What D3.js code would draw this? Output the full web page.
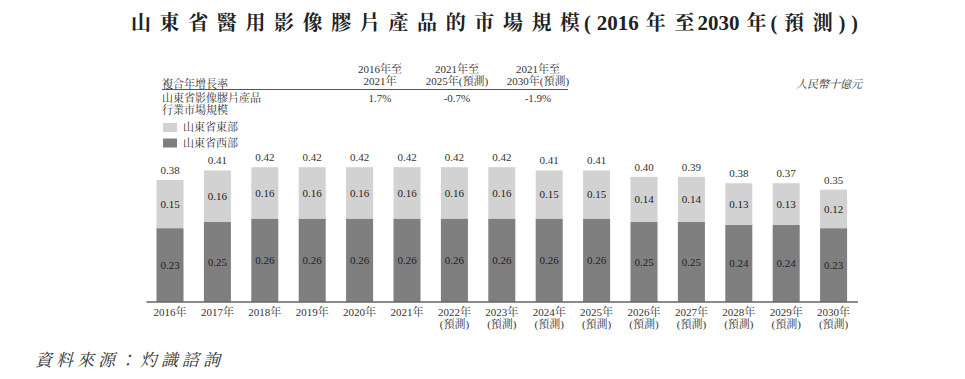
<!DOCTYPE html>
<html><head><meta charset="utf-8">
<script src="https://cdn.jsdelivr.net/npm/d3@7"></script>
<style>
body{margin:0;background:#fff;}
svg{display:block;}
text{font-family:"Liberation Serif","Noto Serif CJK TC","Noto Sans CJK TC",serif;fill:#333;}
</style></head>
<body>
<svg id="c" width="965" height="379"></svg>
<script>
const years = ["2016","2017","2018","2019","2020","2021","2022","2023","2024","2025","2026","2027","2028","2029","2030"];
const forecast = [false,false,false,false,false,false,true,true,true,true,true,true,true,true,true];
const west = [0.23,0.25,0.26,0.26,0.26,0.26,0.26,0.26,0.26,0.26,0.25,0.25,0.24,0.24,0.23];
const east = [0.15,0.16,0.16,0.16,0.16,0.16,0.16,0.16,0.15,0.15,0.14,0.14,0.13,0.13,0.12];
const totals = ["0.38","0.41","0.42","0.42","0.42","0.42","0.42","0.42","0.41","0.41","0.40","0.39","0.38","0.37","0.35"];
const cagrHeaders = [["2016年至","2021年"],["2021年至","2025年(預測)"],["2021年至","2030年(預測)"]];
const cagrValues = ["1.7%","-0.7%","-1.9%"];
const seriesNames = ["山東省東部","山東省西部"];
const colors = {east:"#d2d2d3", west:"#7f7f80"};
const titleText = "山東省醫用影像膠片產品的市場規模(2016年至2030年(預測))";

const svg = d3.select("#c");

// Title: per-pair spacing, CJK-CJK gap fitted so title spans 131..858
const title = svg.append("text").attr("x",131).attr("y",30)
  .style("font-size","20px").style("font-weight","bold").style("fill","#222");
const chars = Array.from(titleText);
const isCJK = c => /[\u4e00-\u9fff]/.test(c);
const isDigit = c => /[0-9]/.test(c);
const tsp = chars.map(c => {
  const s = title.append("tspan").text(c);
  if(isDigit(c)) s.style("font-size","21px");
  return s;
});
const natural = title.node().getComputedTextLength();
const fixed = chars.map((c,i)=>{
  if(i===0) return 0;
  const p = chars[i-1];
  if(c==="(" ) return 4;
  if(isDigit(c) && p==="(") return 6;
  if(isCJK(c) && isDigit(p)) return 7;
  if(isDigit(c) && isCJK(p)) return 3;
  if(isCJK(c) && p==="(") return 7;
  if(c===")") return 6;
  return 0;
});
const nCJK = chars.filter((c,i)=>i>0 && isCJK(c) && isCJK(chars[i-1])).length;
const gap = (727 - natural - d3.sum(fixed)) / nCJK;
chars.forEach((c,i)=>{
  let dx = fixed[i];
  if(i>0 && isCJK(c) && isCJK(chars[i-1])) dx = gap;
  if(dx) tsp[i].attr("dx", dx);
});

// CAGR table
svg.append("text").attr("x",162).attr("y",88).style("font-size","11px").text("複合年增長率");
const colX = [380,457,538];
cagrHeaders.forEach((h,i)=>{
  svg.append("text").attr("x",colX[i]).attr("y",73).attr("text-anchor","middle").style("font-size","11px").text(h[0]);
  svg.append("text").attr("x",colX[i]).attr("y",85).attr("text-anchor","middle").style("font-size","11px").text(h[1]);
  svg.append("text").attr("x",colX[i]).attr("y",102).attr("text-anchor","middle").style("font-size","11px").text(cagrValues[i]);
});
svg.append("line").attr("x1",162).attr("x2",568).attr("y1",89.5).attr("y2",89.5).attr("stroke","#555").attr("stroke-width",1);
svg.append("text").attr("x",162).attr("y",102).style("font-size","11px").text("山東省影像膠片產品");
svg.append("text").attr("x",162).attr("y",114).style("font-size","11px").text("行業市場規模");

// Legend
[colors.east, colors.west].forEach((c,i)=>{
  svg.append("rect").attr("x",163).attr("y",123+i*15.5).attr("width",14).attr("height",9).attr("fill",c);
  svg.append("text").attr("x",183).attr("y",131+i*15.5).style("font-size","11px").text(seriesNames[i]);
});

// Unit
svg.append("text").attr("x",862).attr("y",88).attr("text-anchor","end")
  .style("font-size","11px").style("font-style","italic").text("人民幣十億元");

// Scales
const x = d3.scaleBand().domain(years).range([146.3,857.3]).paddingInner(0.43).paddingOuter(0.215);
const y = d3.scaleLinear().domain([0,0.5]).range([302,302-160.5]);

const g = svg.append("g");
years.forEach((yr,i)=>{
  const x0 = x(yr), w = x.bandwidth(), cx = x0 + w/2;
  const w0 = west[i], e0 = east[i];
  g.append("rect").attr("x",x0).attr("width",w).attr("y",y(w0)).attr("height",y(0)-y(w0)).attr("fill",colors.west);
  g.append("rect").attr("x",x0).attr("width",w).attr("y",y(w0+e0)).attr("height",y(w0)-y(w0+e0)).attr("fill",colors.east);
  g.append("text").attr("x",cx).attr("y",(y(0)+y(w0))/2+4).attr("text-anchor","middle").style("font-size","11px").style("fill","#222").text(w0.toFixed(2));
  g.append("text").attr("x",cx).attr("y",(y(w0)+y(w0+e0))/2+4).attr("text-anchor","middle").style("font-size","11px").style("fill","#222").text(e0.toFixed(2));
  g.append("text").attr("x",cx).attr("y",y(w0+e0)-6).attr("text-anchor","middle").style("font-size","11px").text(totals[i]);
});

// X axis
const axis = d3.axisBottom(x).tickSize(0).tickPadding(0).tickFormat(d=>d+"年");
const ax = svg.append("g").attr("transform","translate(0,302)").call(axis);
ax.select(".domain").remove();
svg.append("line").attr("x1",146.5).attr("x2",858).attr("y1",302).attr("y2",302).attr("stroke","#666").attr("stroke-width",1.5);
ax.selectAll(".tick text").each(function(d,i){
  const t = d3.select(this);
  t.text(null).attr("y",0).attr("dy",null).style("font-size","11px").style("font-family",null).attr("fill","#333");
  t.append("tspan").attr("x",0).attr("y",14).text(d+"年");
  if(forecast[i]) t.append("tspan").attr("x",0).attr("y",26).text("(預測)");
});

// Source
svg.append("text").attr("x",35).attr("y",366).style("letter-spacing","4px")
  .style("font-size","17px").style("font-style","italic").text("資料來源：灼識諮詢");
</script>
</body></html>
